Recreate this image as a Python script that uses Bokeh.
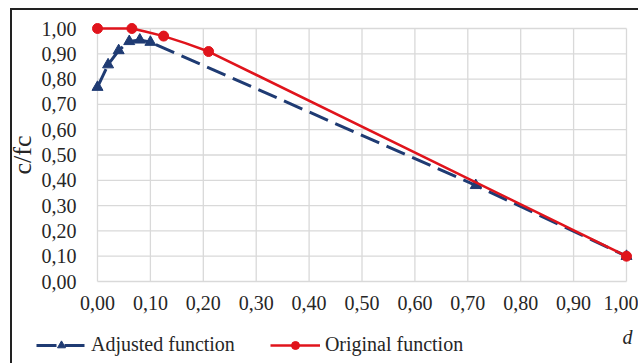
from bokeh.plotting import figure
from bokeh.models import Range1d, FixedTicker, CustomJSTickFormatter, Legend, LegendItem, Label
from bokeh.embed import file_html
from bokeh.resources import INLINE

# ---- data ----
adj_x = [0.0, 0.02, 0.04, 0.06, 0.08, 0.10, 0.715, 1.0]
adj_y = [0.768, 0.857, 0.913, 0.949, 0.955, 0.946, 0.38, 0.10]

orig_x = [0.0, 0.065, 0.125, 0.21, 1.0]
orig_y = [1.0, 1.0, 0.970, 0.909, 0.10]

# smoothed curve of the original function
curve_x = [0.0, 0.065, 0.09, 0.125, 0.166, 0.21, 1.0]
curve_y = [1.0, 1.0, 0.988, 0.970, 0.942, 0.909, 0.10]

x_ticks = [0.0, 0.1, 0.2, 0.3, 0.4, 0.5, 0.6, 0.7, 0.8, 0.9, 1.0]
y_ticks = [0.0, 0.1, 0.2, 0.3, 0.4, 0.5, 0.6, 0.7, 0.8, 0.9, 1.0]

series_names = ["Adjusted function", "Original function"]
x_name = "d"
y_name = "c/fc"

FONT = "Liberation Serif"
LEG_FONT = "'Liberation Serif', serif"
TXT = "#262626"
RED = "#e0141c"
BLUE = "#1f3b73"
GRID = "#d9d9d9"

xpad = 7 / 529
ypad = 6 / 253

# ---------------- main plot ----------------
p = figure(width=638, height=316, output_backend="svg", toolbar_location=None,
           x_range=Range1d(-xpad, 1 + xpad), y_range=Range1d(-ypad, 1 + ypad),
           min_border_left=90, min_border_right=5, min_border_top=22, min_border_bottom=29)
p.border_fill_alpha = 0
p.background_fill_color = "white"
p.outline_line_color = None
p.xgrid.visible = False
p.ygrid.visible = False
p.styles = {"box-shadow": "inset 10px 8px 0 0 #ffffff, inset 12px 10px 0 0 #222222"}

# grid drawn from the tick arrays, limited to the 0..1 box
p.segment(x0=x_ticks, x1=x_ticks, y0=[0.0] * len(x_ticks), y1=[1.0] * len(x_ticks),
          line_color=GRID, line_width=1.3)
p.segment(x0=[0.0] * len(y_ticks), x1=[1.0] * len(y_ticks), y0=y_ticks, y1=y_ticks,
          line_color=GRID, line_width=1.3)

fmt = CustomJSTickFormatter(code="return tick.toFixed(2).replace('.', ',');")
for ax, ticks in ((p.xaxis[0], x_ticks), (p.yaxis[0], y_ticks)):
    ax.ticker = FixedTicker(ticks=ticks)
    ax.formatter = fmt
    ax.axis_line_color = None
    ax.major_tick_line_color = None
    ax.minor_tick_line_color = None
    ax.major_label_text_font = FONT
    ax.major_label_text_font_size = "20px"
    ax.major_label_text_color = TXT

p.xaxis.major_label_standoff = 2
p.yaxis.major_label_standoff = 8
p.yaxis.axis_label = y_name
p.yaxis.axis_label_text_font = FONT
p.yaxis.axis_label_text_font_style = "normal"
p.yaxis.axis_label_text_font_size = "26px"
p.yaxis.axis_label_text_color = TXT
p.yaxis.axis_label_standoff = 2

p.line(adj_x, adj_y, line_color=BLUE, line_width=3, line_dash="20 8")
p.scatter(adj_x, adj_y, marker="triangle", size=11, fill_color=BLUE, line_color=BLUE)
p.line(curve_x, curve_y, line_color=RED, line_width=2.5)
p.scatter(orig_x, orig_y, marker="circle", size=10, fill_color=RED, line_color=RED)

# ---------------- legend strip (its own root, stacked under the plot) ----------------
# ranges put the (legend-only) series outside this strip's view
q = figure(width=638, height=47, output_backend="svg", toolbar_location=None,
           x_range=Range1d(10, 648), y_range=Range1d(10, 57),
           x_axis_type=None, y_axis_type=None, min_border=0)
q.border_fill_alpha = 0
q.background_fill_alpha = 0
q.outline_line_color = None
q.xgrid.visible = False
q.ygrid.visible = False
q.styles = {"box-shadow": "inset 10px 0 0 0 #ffffff, inset 12px 0 0 0 #222222"}

bl = q.line(adj_x, adj_y, line_color=BLUE, line_width=3, line_dash="20 8")
bm = q.scatter(adj_x, adj_y, marker="triangle", size=11, fill_color=BLUE, line_color=BLUE)
rl = q.line(orig_x, orig_y, line_color=RED, line_width=2.5)
rm = q.scatter(orig_x, orig_y, marker="circle", size=10, fill_color=RED, line_color=RED)

legend = Legend(items=[LegendItem(label=series_names[0], renderers=[bl, bm]),
                       LegendItem(label=series_names[1], renderers=[rl, rm])],
                orientation="horizontal", location=(36, 7),
                glyph_width=50, glyph_height=20, label_standoff=5, spacing=35,
                padding=5, margin=0, border_line_color=None, background_fill_alpha=0,
                label_text_font=LEG_FONT, label_text_font_size="20px", label_text_color=TXT)
q.add_layout(legend, "center")

q.add_layout(Label(x=637, y=37, text=x_name, text_font=FONT, text_font_size="20px",
                   text_font_style="italic", text_color=TXT,
                   text_align="center", text_baseline="middle"))

open("out.html", "w").write(file_html([p, q], INLINE))
